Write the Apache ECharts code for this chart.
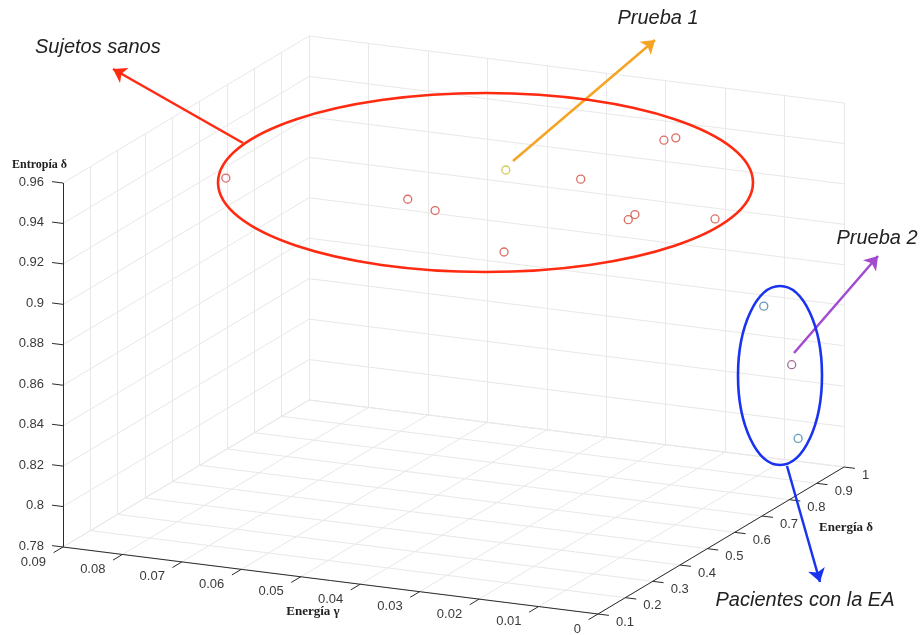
<!DOCTYPE html>
<html>
<head>
<meta charset="utf-8">
<script src="https://cdn.jsdelivr.net/npm/echarts@6/dist/echarts.min.js"></script>
<style>
html,body{margin:0;padding:0;background:#ffffff;}
#chart{width:921px;height:635px;}
</style>
</head>
<body>
<div id="chart"></div>
<script>
// ---------------- DATA ----------------
// Sujetos sanos
const sanosEnergiaGamma = [0.0718, 0.0458, 0.0389, 0.0319, 0.0236, 0.0179, 0.0177, 0.0211, 0.0214, 0.0079];
const sanosEnergiaDelta = [0.30, 0.40, 0.35, 0.45, 0.55, 0.60, 0.62, 0.80, 0.85, 0.70];
const sanosEntropiaDelta = [0.953, 0.944, 0.945, 0.919, 0.950, 0.928, 0.929, 0.950, 0.947, 0.924];
// Prueba 1
const prueba1EnergiaGamma = [0.0385];
const prueba1EnergiaDelta = [0.60];
const prueba1EntropiaDelta = [0.945];
// Prueba 2
const prueba2EnergiaGamma = [0.0019];
const prueba2EnergiaDelta = [0.85];
const prueba2EntropiaDelta = [0.842];
// Pacientes con la EA
const pacientesEnergiaGamma = [0.0020, 0.0022];
const pacientesEnergiaDelta = [0.75, 0.88];
const pacientesEntropiaDelta = [0.879, 0.803];

// Tick labels
const xTickLabels = ['0', '0.01', '0.02', '0.03', '0.04', '0.05', '0.06', '0.07', '0.08', '0.09'];
const yTickLabels = ['0.1', '0.2', '0.3', '0.4', '0.5', '0.6', '0.7', '0.8', '0.9', '1'];
const zTickLabels = ['0.78', '0.8', '0.82', '0.84', '0.86', '0.88', '0.9', '0.92', '0.94', '0.96'];

const xAxisName = 'Energía γ';
const yAxisName = 'Energía δ';
const zAxisName = 'Entropía δ';

// ---------------- 3D -> 2D PROJECTION (layout) ----------------
const xTicks = xTickLabels.map(Number);
const yTicks = yTickLabels.map(Number);
const zTicks = zTickLabels.map(Number);
const X_RANGE = [xTicks[0], xTicks[xTicks.length - 1]];
const Y_RANGE = [yTicks[0], yTicks[yTicks.length - 1]];
const Z_RANGE = [zTicks[0], zTicks[zTicks.length - 1]];
const ORIGIN = [598, 614];   // screen of (xmin, ymin, zmin)
const EX = [-535, -67];      // screen span of the x range
const EY = [246, -147];      // screen span of the y range
const EZ = [0, -364];        // screen span of the z range

function proj(x, y, z) {
  const u = (x - X_RANGE[0]) / (X_RANGE[1] - X_RANGE[0]);
  const v = (y - Y_RANGE[0]) / (Y_RANGE[1] - Y_RANGE[0]);
  const w = (z - Z_RANGE[0]) / (Z_RANGE[1] - Z_RANGE[0]);
  return [
    ORIGIN[0] + u * EX[0] + v * EY[0] + w * EZ[0],
    ORIGIN[1] + u * EX[1] + v * EY[1] + w * EZ[1]
  ];
}
function projectAll(gx, gy, gz) {
  return gx.map((v, i) => proj(v, gy[i], gz[i]));
}

// ---------------- GRID LINES ----------------
const gridSegs = [];
const x0 = X_RANGE[0], x1 = X_RANGE[1], y0 = Y_RANGE[0], y1 = Y_RANGE[1], z0 = Z_RANGE[0], z1 = Z_RANGE[1];
// floor (z = zmin)
xTicks.forEach(x => gridSegs.push([proj(x, y0, z0), proj(x, y1, z0)]));
yTicks.forEach(y => gridSegs.push([proj(x0, y, z0), proj(x1, y, z0)]));
// back wall (y = ymax)
xTicks.forEach(x => gridSegs.push([proj(x, y1, z0), proj(x, y1, z1)]));
zTicks.forEach(z => gridSegs.push([proj(x0, y1, z), proj(x1, y1, z)]));
// left wall (x = xmax)
yTicks.forEach(y => gridSegs.push([proj(x1, y, z0), proj(x1, y, z1)]));
zTicks.forEach(z => gridSegs.push([proj(x1, y0, z), proj(x1, y1, z)]));

// axes lines
const axisSegs = [
  [proj(x1, y0, z0), proj(x0, y0, z0)],
  [proj(x0, y0, z0), proj(x0, y1, z0)],
  [proj(x1, y0, z0), proj(x1, y0, z1)]
];
// ticks
function unit(v) { const l = Math.hypot(v[0], v[1]); return [v[0] / l, v[1] / l]; }
const TL = 11;
const dirX = unit([-EY[0], -EY[1]]);
const dirY = unit([-EX[0], -EX[1]]);
const dirZ = unit([EX[0], EX[1]]);
xTicks.forEach(x => { const p = proj(x, y0, z0); axisSegs.push([p, [p[0] + dirX[0] * TL, p[1] + dirX[1] * TL]]); });
yTicks.forEach(y => { const p = proj(x0, y, z0); axisSegs.push([p, [p[0] + dirY[0] * TL, p[1] + dirY[1] * TL]]); });
zTicks.forEach(z => { const p = proj(x1, y0, z); axisSegs.push([p, [p[0] + dirZ[0] * TL, p[1] + dirZ[1] * TL]]); });

// tick label entries
const tickLabelItems = [];
xTicks.forEach((x, i) => { const p = proj(x, y0, z0); tickLabelItems.push({ value: [p[0] - 17, p[1] + 15], text: xTickLabels[i], align: 'right' }); });
yTicks.forEach((y, i) => { const p = proj(x0, y, z0); tickLabelItems.push({ value: [p[0] + 18, p[1] + 8], text: yTickLabels[i], align: 'left' }); });
zTicks.forEach((z, i) => { const p = proj(x1, y0, z); tickLabelItems.push({ value: [p[0] - 19, p[1] - 1], text: zTickLabels[i], align: 'right' }); });

// ---------------- CHART ----------------
const chart = echarts.init(document.getElementById('chart'), null, { renderer: 'canvas' });

const labelFont = '"Liberation Sans", Arial, Helvetica, sans-serif';
const serifFont = '"Liberation Serif", "DejaVu Serif", serif';

function markerSeries(name, pts, color) {
  return {
    name, type: 'scatter', data: pts, symbol: 'circle', symbolSize: 8, z: 10,
    itemStyle: { color: 'rgba(255,255,255,0)', borderColor: color, borderWidth: 1.3 }
  };
}

const option = {
  animation: false,
  backgroundColor: '#ffffff',
  grid: { left: 0, right: 0, top: 0, bottom: 0 },
  xAxis: { type: 'value', min: 0, max: 921, show: false },
  yAxis: { type: 'value', min: 0, max: 635, inverse: true, show: false },
  series: [
    {
      type: 'lines', coordinateSystem: 'cartesian2d', z: 1, silent: true,
      data: gridSegs.map(s => ({ coords: s })),
      lineStyle: { color: '#e8e8e8', width: 1, opacity: 1 }
    },
    {
      type: 'lines', coordinateSystem: 'cartesian2d', z: 2, silent: true,
      data: axisSegs.map(s => ({ coords: s })),
      lineStyle: { color: '#2b2b2b', width: 1, opacity: 1 }
    },
    {
      type: 'custom', coordinateSystem: 'cartesian2d', z: 3, silent: true,
      data: tickLabelItems.map(d => d.value),
      renderItem: function (params, api) {
        const it = tickLabelItems[params.dataIndex];
        const p = api.coord([api.value(0), api.value(1)]);
        return {
          type: 'text', x: p[0], y: p[1],
          style: { text: it.text, align: it.align, verticalAlign: 'middle', fill: '#3a3a3a', font: '13px ' + labelFont }
        };
      }
    },
    markerSeries('Sujetos sanos', projectAll(sanosEnergiaGamma, sanosEnergiaDelta, sanosEntropiaDelta), '#d2473c'),
    markerSeries('Prueba 1', projectAll(prueba1EnergiaGamma, prueba1EnergiaDelta, prueba1EntropiaDelta), '#c4c02a'),
    markerSeries('Prueba 2', projectAll(prueba2EnergiaGamma, prueba2EnergiaDelta, prueba2EntropiaDelta), '#8a4a7a'),
    markerSeries('Pacientes con la EA', projectAll(pacientesEnergiaGamma, pacientesEnergiaDelta, pacientesEntropiaDelta), '#3d80aa'),
    {
      type: 'lines', coordinateSystem: 'cartesian2d', z: 20, silent: true,
      symbol: ['none', 'arrow'], symbolSize: 13,
      data: [
        { coords: [[243, 143], [113, 69]], lineStyle: { color: '#ff2a10' } },
        { coords: [[513, 161], [655, 40]], lineStyle: { color: '#f5a323' } },
        { coords: [[794, 353], [878, 256]], lineStyle: { color: '#a24ad0' } },
        { coords: [[787, 466], [820, 582]], lineStyle: { color: '#1a33f0' } }
      ],
      lineStyle: { width: 2.5, opacity: 1 }
    }
  ],
  graphic: [
    { type: 'ellipse', shape: { cx: 485.5, cy: 182.5, rx: 267.5, ry: 89.5 }, style: { fill: null, stroke: '#ff2a10', lineWidth: 2.6 }, z: 30 },
    { type: 'ellipse', shape: { cx: 780, cy: 375.5, rx: 42, ry: 89.5 }, style: { fill: null, stroke: '#1a33f0', lineWidth: 2.6 }, z: 30 },
    { type: 'text', x: 35, y: 47, style: { text: 'Sujetos sanos', font: 'italic 20px ' + labelFont, fill: '#222', verticalAlign: 'middle', align: 'left' }, z: 30 },
    { type: 'text', x: 658, y: 18, style: { text: 'Prueba 1', font: 'italic 20px ' + labelFont, fill: '#222', verticalAlign: 'middle', align: 'center' }, z: 30 },
    { type: 'text', x: 877, y: 238, style: { text: 'Prueba 2', font: 'italic 20px ' + labelFont, fill: '#222', verticalAlign: 'middle', align: 'center' }, z: 30 },
    { type: 'text', x: 805, y: 600, style: { text: 'Pacientes con la EA', font: 'italic 20px ' + labelFont, fill: '#222', verticalAlign: 'middle', align: 'center' }, z: 30 },
    { type: 'text', x: 12, y: 165, style: { text: zAxisName, font: 'bold 12px ' + serifFont, fill: '#222', verticalAlign: 'middle', align: 'left' }, z: 30 },
    { type: 'text', x: 313, y: 612, style: { text: xAxisName, font: 'bold 13px ' + serifFont, fill: '#222', verticalAlign: 'middle', align: 'center' }, z: 30 },
    { type: 'text', x: 846, y: 528, style: { text: yAxisName, font: 'bold 13px ' + serifFont, fill: '#222', verticalAlign: 'middle', align: 'center' }, z: 30 }
  ]
};
chart.setOption(option);
</script>
</body>
</html>
